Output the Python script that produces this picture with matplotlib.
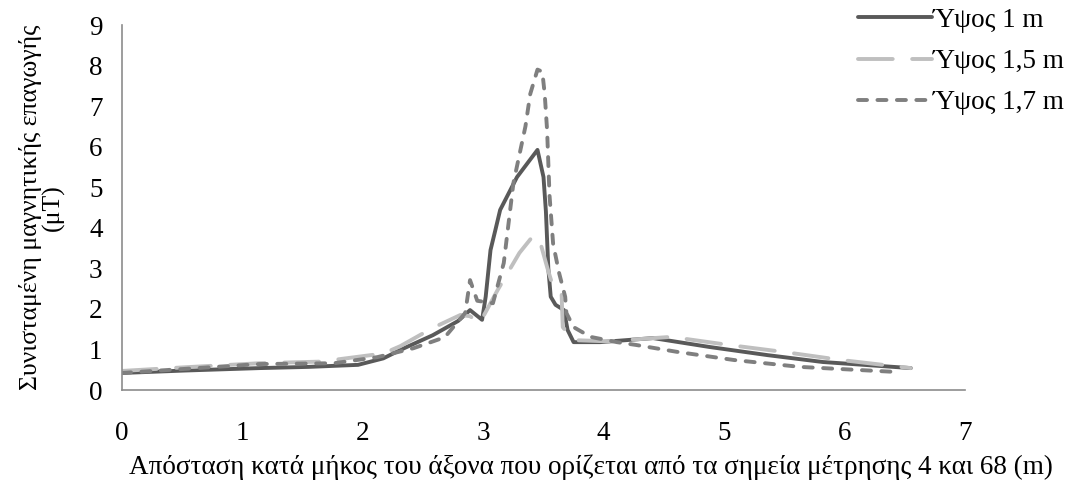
import matplotlib
matplotlib.use("Agg")
import matplotlib.pyplot as plt

plt.rcParams['font.family'] = ['Liberation Serif', 'DejaVu Serif']
plt.rcParams['lines.scale_dashes'] = False

# Ύψος 1 m
x_1m = [0, 0.52, 1.14, 1.55, 1.96, 2.17, 2.32, 2.58, 2.79, 2.89, 2.99, 3.02, 3.06, 3.10, 3.14,
        3.28, 3.45, 3.50, 3.52, 3.54, 3.56, 3.60, 3.67, 3.70, 3.75, 3.97, 4.41, 4.88,
        5.36, 5.82, 6.55]
y_1m = [0.42, 0.48, 0.54, 0.57, 0.62, 0.78, 1.0, 1.35, 1.7, 1.97, 1.73, 2.3, 3.45, 3.94, 4.44,
        5.25, 5.92, 5.25, 4.4, 3.0, 2.3, 2.1, 1.97, 1.48, 1.18, 1.18, 1.28, 1.06,
        0.86, 0.69, 0.54]

# Ύψος 1,5 m
x_15m = [0, 0.52, 1.14, 1.65, 2.17, 2.31, 2.58, 2.81, 2.89, 2.97, 3.12, 3.30, 3.40, 3.46, 3.53,
         3.58, 3.65, 3.66, 3.75, 4.03, 4.56, 5.04, 5.49, 5.97, 6.55]
y_15m = [0.47, 0.56, 0.66, 0.7, 0.9, 1.08, 1.53, 1.85, 1.82, 1.65, 2.47, 3.38, 3.75, 3.78, 3.03,
         2.54, 2.39, 1.55, 1.23, 1.2, 1.31, 1.11, 0.94, 0.74, 0.54]

# Ύψος 1,7 m
x_17m = [0, 0.52, 1.14, 1.76, 2.12, 2.42, 2.68, 2.85, 2.89, 2.95, 3.08, 3.17, 3.25, 3.35, 3.39,
         3.45, 3.49, 3.51, 3.53, 3.55, 3.58, 3.63, 3.68, 3.69, 3.75, 3.89, 4.11, 4.27,
         4.61, 5.08, 5.63, 6.46]
y_17m = [0.42, 0.52, 0.64, 0.66, 0.81, 1.03, 1.3, 1.9, 2.71, 2.2, 2.14, 3.13, 5.1, 6.5, 7.3,
         7.9, 7.85, 7.3, 6.4, 4.8, 3.6, 2.88, 2.3, 1.9, 1.55, 1.31, 1.18, 1.11,
         0.94, 0.74, 0.57, 0.44]

labels = ['Ύψος 1 m', 'Ύψος 1,5 m', 'Ύψος 1,7 m']

fig = plt.figure(figsize=(10.69, 4.84), dpi=100)
ax = fig.add_axes([122 / 1069, 1 - 390 / 484, (965 - 122) / 1069, (390 - 25) / 484])

ax.plot(x_1m, y_1m, color='#595959', lw=2.8, solid_capstyle='round', label=labels[0])
ax.plot(x_15m, y_15m, color='#bfbfbf', lw=2.8, dashes=(25, 14), dash_capstyle='round',
        label=labels[1])
ax.plot(x_17m, y_17m, color='#7f7f7f', lw=2.8, dashes=(6.5, 7.5), dash_capstyle='round',
        label=labels[2])

ax.set_xlim(0, 7)
ax.set_ylim(0, 9)
ax.set_xticks(range(0, 8))
ax.set_yticks(range(0, 10))
ax.tick_params(length=0, labelsize=19.5)
ax.tick_params(axis='x', pad=22)
ax.tick_params(axis='y', pad=14)
for side in ['top', 'right']:
    ax.spines[side].set_visible(False)
for side in ['left', 'bottom']:
    ax.spines[side].set_color('#8c8c8c')
    ax.spines[side].set_linewidth(1.2)

ax.set_xlabel('Απόσταση κατά μήκος του άξονα που ορίζεται από τα σημεία μέτρησης 4 και 68 (m)',
              fontsize=19.5)
ax.xaxis.set_label_coords(0.556, -0.177)
ax.set_ylabel('Συνισταμένη μαγνητικής επαγωγής\n(μT)', fontsize=18.5, linespacing=0.95)
ax.yaxis.set_label_coords(-0.068, 0.5)

leg = fig.legend(loc='upper left', bbox_to_anchor=(858 / 1069, 0.984), frameon=False,
                 fontsize=19.5, handlelength=2.72, handletextpad=0.05, labelspacing=0.6,
                 borderaxespad=0, borderpad=0)

fig.savefig('out.png', dpi=100)
